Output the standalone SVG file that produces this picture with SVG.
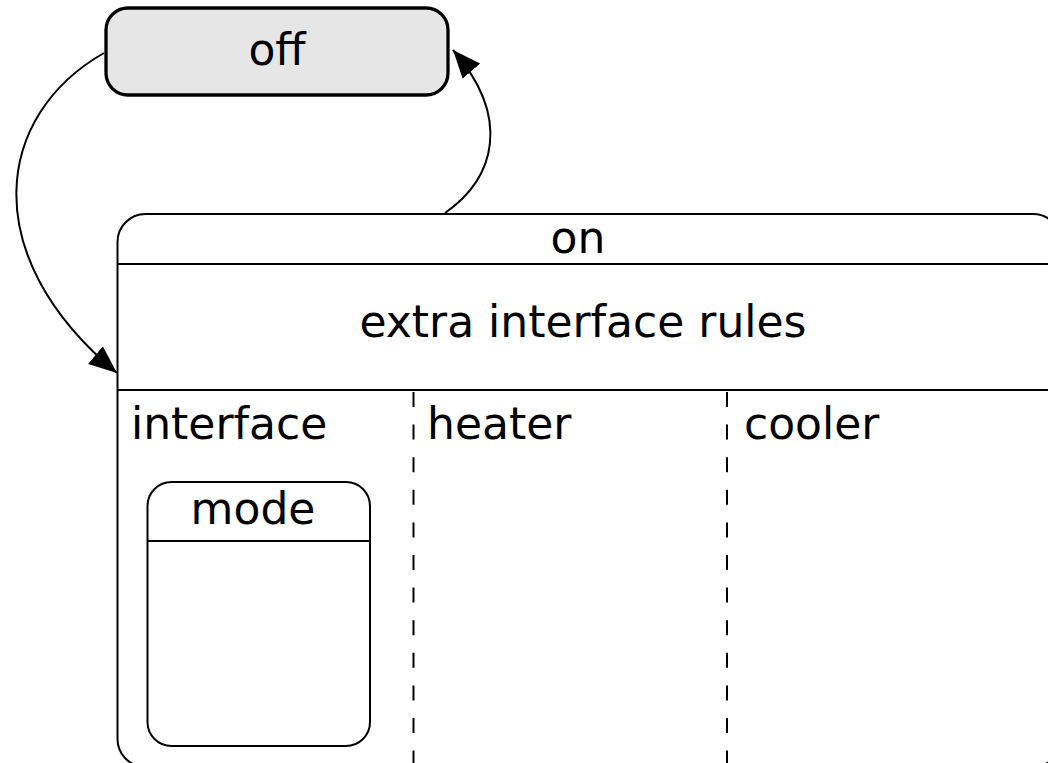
<svg xmlns="http://www.w3.org/2000/svg" width="1048" height="763" viewBox="0 0 1048 763">
  <style>
    text { font-family: "DejaVu Sans", "Liberation Sans", sans-serif; font-size: 44px; fill: #000; }
    .mid { text-anchor: middle; }
    .frame { fill: none; stroke: #000; stroke-width: 2; }
    .rule { stroke: #000; stroke-width: 2; }
    .region { stroke: #000; stroke-width: 2; stroke-dasharray: 15 17.6; }
    .edge { fill: none; stroke: #000; stroke-width: 2; marker-end: url(#arrow); }
  </style>
  <defs>
    <marker id="arrow" markerUnits="userSpaceOnUse" markerWidth="30" markerHeight="24" refX="28" refY="11.5" orient="auto">
      <path d="M0,0 L28,11.5 L0,23 Z" fill="#000"/>
    </marker>
  </defs>
  <rect width="1048" height="763" fill="#fff"/>

  <!-- connectors -->
  <g id="connectors">
    <path class="edge" d="M104,53 C -5,115 -25,255 117,373"/>
    <path class="edge" d="M445,213 C 495,178 512,118 453,50"/>
  </g>

  <!-- state: off -->
  <g id="off">
    <rect x="106" y="8" width="342" height="87" rx="22" fill="#e6e6e6" stroke="#000" stroke-width="3.3"/>
    <text class="mid" x="277" y="65">off</text>
  </g>

  <!-- state: on, with its parallel regions -->
  <g id="on">
    <rect class="frame" x="117.5" y="214" width="943.5" height="553" rx="28"/>
    <text class="mid" x="578" y="253">on</text>
    <line class="rule" x1="118" y1="264" x2="1061" y2="264"/>
    <text class="mid" x="583" y="337">extra interface rules</text>
    <line class="rule" x1="118" y1="390" x2="1061" y2="390"/>
    <line class="region" x1="413.5" y1="392" x2="413.5" y2="766"/>
    <line class="region" x1="727" y1="392" x2="727" y2="766"/>
  </g>

  <g id="interface">
    <text x="131" y="439">interface</text>
  </g>
  <g id="heater">
    <text x="427" y="439">heater</text>
  </g>
  <g id="cooler">
    <text x="744" y="439">cooler</text>
  </g>

  <!-- state: mode, inside the interface region -->
  <g id="mode">
    <rect class="frame" x="147.5" y="482" width="222.5" height="264" rx="24"/>
    <text class="mid" x="253" y="524">mode</text>
    <line class="rule" x1="148" y1="541" x2="370" y2="541"/>
  </g>
</svg>
